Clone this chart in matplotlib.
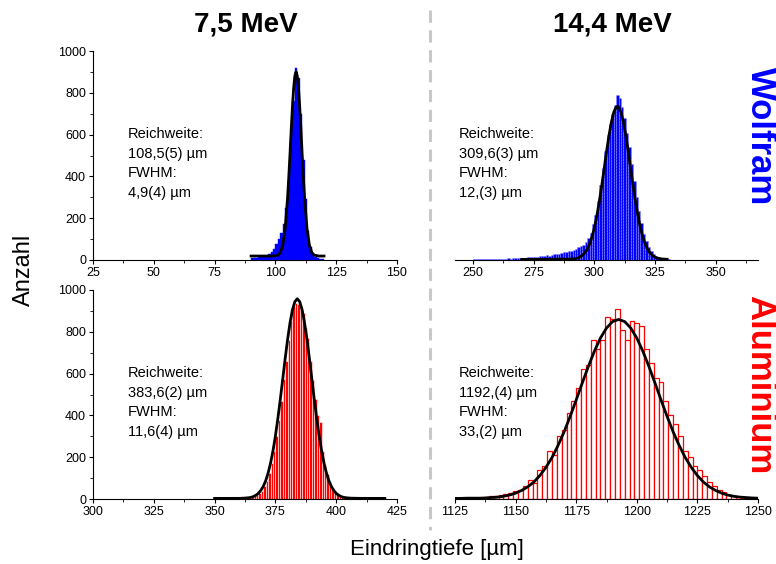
import numpy as np
import matplotlib.pyplot as plt
from matplotlib.ticker import MultipleLocator

plt.rcParams['font.family'] = ['Liberation Sans', 'DejaVu Sans']

# --- 7,5 MeV Wolfram (Histogramm, 1 µm Bins, linke Kante) ---
w75_x = np.arange(90, 120)
w75_n = [8, 10, 10, 12, 15, 18, 20, 30, 40, 55, 75, 100, 130, 170, 250,
         380, 560, 760, 920, 870, 700, 480, 290, 140, 60, 25, 12, 8, 5, 3]
w75_fx = [90, 92, 94, 96, 98, 100, 101, 102, 103, 104, 105, 105.5, 106, 106.5, 107, 107.5,
          108, 108.5, 109, 109.5, 110, 110.5, 111, 111.5, 112, 113, 114, 115, 116, 118, 120]
w75_fy = [19, 19, 19, 19, 19, 20, 23, 35, 70, 149, 296, 396, 507, 623, 732, 822,
          881, 901, 881, 822, 732, 623, 507, 396, 296, 149, 70, 35, 23, 19, 19]

# --- 14,4 MeV Wolfram ---
w144_x = np.arange(250, 333)
w144_n = [4, 5, 3, 4, 5, 4, 6, 5, 4, 5,
          6, 5, 7, 6, 8, 7, 8, 9, 8, 10,
          9, 11, 12, 13, 12, 15, 16, 18, 17, 20,
          22, 21, 25, 27, 30, 28, 33, 36, 40, 44,
          45, 48, 55, 60, 65, 72, 85, 105, 130, 170,
          215, 280, 360, 440, 520, 600, 650, 700, 740, 790,
          775, 730, 680, 610, 540, 460, 380, 300, 235, 175,
          125, 90, 62, 42, 28, 18, 12, 8, 6, 4,
          3, 2, 2]
w144_fx = [270, 275, 280, 285, 288, 290, 291, 292, 293, 294, 295, 296, 297, 298, 299,
           300, 301, 302, 303, 304, 305, 306, 307, 308, 309, 309.5, 310, 311, 312, 313,
           314, 315, 316, 317, 318, 319, 320, 321, 322, 323, 324, 325, 326, 327, 328,
           329, 330]
w144_fy = [3, 3, 3, 4, 4, 4, 5, 6.5, 9, 14, 22, 33, 51, 76, 110,
           154, 210, 277, 353, 434, 517, 594, 659, 707, 732, 735, 732, 707, 659, 594,
           517, 434, 353, 277, 210, 154, 110, 76, 51, 33, 22, 14, 9, 6.5, 5,
           4, 3.5]

# --- 7,5 MeV Aluminium ---
a75_x = np.arange(355, 404)
a75_n = [2, 3, 2, 3, 4, 3, 4, 5, 6, 8,
         10, 12, 18, 28, 40, 60, 85, 125, 170, 230,
         300, 380, 470, 575, 660, 760, 850, 925, 940, 935,
         925, 890, 820, 770, 660, 570, 480, 400, 370, 230,
         165, 120, 80, 55, 35, 20, 12, 8, 5]
a75_fx = [350, 355, 360, 362, 364, 365, 366, 367, 368, 369, 370, 371, 372, 373, 374,
          375, 376, 377, 378, 379, 380, 381, 382, 383, 384, 385, 386, 387, 388, 389,
          390, 391, 392, 393, 394, 395, 396, 397, 398, 399, 400, 401, 402, 403, 404,
          406, 410, 415, 420]
a75_fy = [3, 3, 3, 4, 6, 8, 12, 18, 27, 41, 60, 87, 124, 171, 230,
          301, 384, 475, 572, 670, 762, 842, 905, 944, 958, 944, 905, 842, 762, 670,
          572, 475, 384, 301, 230, 171, 124, 87, 60, 41, 27, 18, 12, 8, 6,
          4, 3, 3, 3]

# --- 14,4 MeV Aluminium (2 µm Bins, Mitte) ---
a144_x = np.arange(1126, 1250, 2)
a144_n = [4, 1, 3, 4, 3, 6, 8, 12, 15, 18,
          22, 30, 40, 45, 60, 90, 75, 140, 160, 230,
          210, 300, 330, 410, 470, 530, 620, 640, 760, 720,
          760, 870, 860, 910, 810, 760, 850, 840, 830, 720,
          650, 580, 560, 470, 400, 360, 300, 230, 200, 160,
          140, 110, 80, 60, 45, 35, 20, 12, 8, 5,
          3, 2]
a144_fx = np.arange(1125, 1251, 2.5)
a144_fy = [3, 3, 4, 4, 4, 5, 7, 9, 13, 19,
           28, 41, 58, 81, 112, 151, 198, 256, 321, 395,
           474, 555, 634, 707, 770, 818, 849, 859, 849, 818,
           770, 707, 634, 555, 474, 395, 321, 256, 198, 151,
           112, 81, 58, 41, 28, 19, 13, 9, 7, 5,
           4]

texts = ["Reichweite:\n108,5(5) µm\nFWHM:\n4,9(4) µm",
         "Reichweite:\n309,6(3) µm\nFWHM:\n12,(3) µm",
         "Reichweite:\n383,6(2) µm\nFWHM:\n11,6(4) µm",
         "Reichweite:\n1192,(4) µm\nFWHM:\n33,(2) µm"]

fig = plt.figure(figsize=(7.76, 5.64), dpi=100)
W, H = 776, 564


def make_ax(x0, x1, ytop, ybot):
    return fig.add_axes([x0 / W, 1 - ybot / H, (x1 - x0) / W, (ybot - ytop) / H])


ax_tl = make_ax(93, 397, 51, 260)
ax_tr = make_ax(455, 758, 51, 260)
ax_bl = make_ax(93, 397, 290, 499)
ax_br = make_ax(455, 758, 290, 499)

ax_tl.bar(w75_x, w75_n, width=1, align='edge', color='#0000ff', edgecolor='#0000ff', lw=0.3)
ax_tl.plot(w75_fx, w75_fy, color='black', lw=2)
ax_tl.set_xlim(25, 150)
ax_tl.xaxis.set_major_locator(MultipleLocator(25))

ax_tr.bar(w144_x, w144_n, width=1, align='edge', color='#0000ff', edgecolor='#9090ff',
          lw=0.4, linestyle='--')
ax_tr.plot(w144_fx, w144_fy, color='black', lw=2)
ax_tr.set_xlim(242.5, 367.5)
ax_tr.xaxis.set_major_locator(MultipleLocator(25))

ax_bl.bar(a75_x, a75_n, width=1, align='edge', color='#ff0000', edgecolor='white', lw=0.4)
ax_bl.plot(a75_fx, a75_fy, color='black', lw=2)
ax_bl.set_xlim(300, 425)
ax_bl.xaxis.set_major_locator(MultipleLocator(25))

ax_br.bar(a144_x, a144_n, width=2, color='white', edgecolor='#ff0000', lw=0.9)
ax_br.plot(a144_fx, a144_fy, color='black', lw=2)
ax_br.set_xlim(1125, 1250)
ax_br.xaxis.set_major_locator(MultipleLocator(25))

for i, ax in enumerate([ax_tl, ax_tr, ax_bl, ax_br]):
    ax.set_ylim(0, 1000)
    ax.spines['top'].set_visible(False)
    ax.spines['right'].set_visible(False)
    ax.xaxis.set_minor_locator(MultipleLocator(12.5))
    ax.tick_params(which='major', length=3, width=0.8, labelsize=9, pad=2)
    ax.tick_params(which='minor', length=2, width=0.6)
    if i in (1, 3):
        ax.spines['left'].set_visible(False)
        ax.set_yticks([])
        ax.yaxis.set_minor_locator(plt.NullLocator())
        tx = 0.013
    else:
        ax.yaxis.set_major_locator(MultipleLocator(200))
        ax.yaxis.set_minor_locator(MultipleLocator(100))
        tx = 0.115
    ax.text(tx, 0.635, texts[i], transform=ax.transAxes, ha='left', va='top',
            fontsize=10.5, linespacing=1.5)

fig.text(245.5 / W, 1 - 25 / H, "7,5 MeV", ha='center', va='center',
         fontsize=20, fontweight='bold')
fig.text(612 / W, 1 - 25 / H, "14,4 MeV", ha='center', va='center',
         fontsize=20, fontweight='bold')
fig.text(760 / W, 1 - 136 / H, "Wolfram", ha='center', va='center', rotation=-90,
         fontsize=25, fontweight='bold', color='#0000ff')
fig.text(760 / W, 1 - 385 / H, "Aluminium", ha='center', va='center', rotation=-90,
         fontsize=25, fontweight='bold', color='#ff0000')
fig.text(24 / W, 1 - 270 / H, "Anzahl", ha='center', va='center', rotation=90, fontsize=17)
fig.text(437 / W, 1 - 550 / H, "Eindringtiefe [µm]", ha='center', va='center', fontsize=16)

fig.add_artist(plt.Line2D([430 / W, 430 / W], [1 - 10 / H, 1 - 530 / H], color='#c8c8c8',
                          lw=2.2, linestyle=(0, (4, 2.5))))

fig.savefig('out.png', dpi=100)
